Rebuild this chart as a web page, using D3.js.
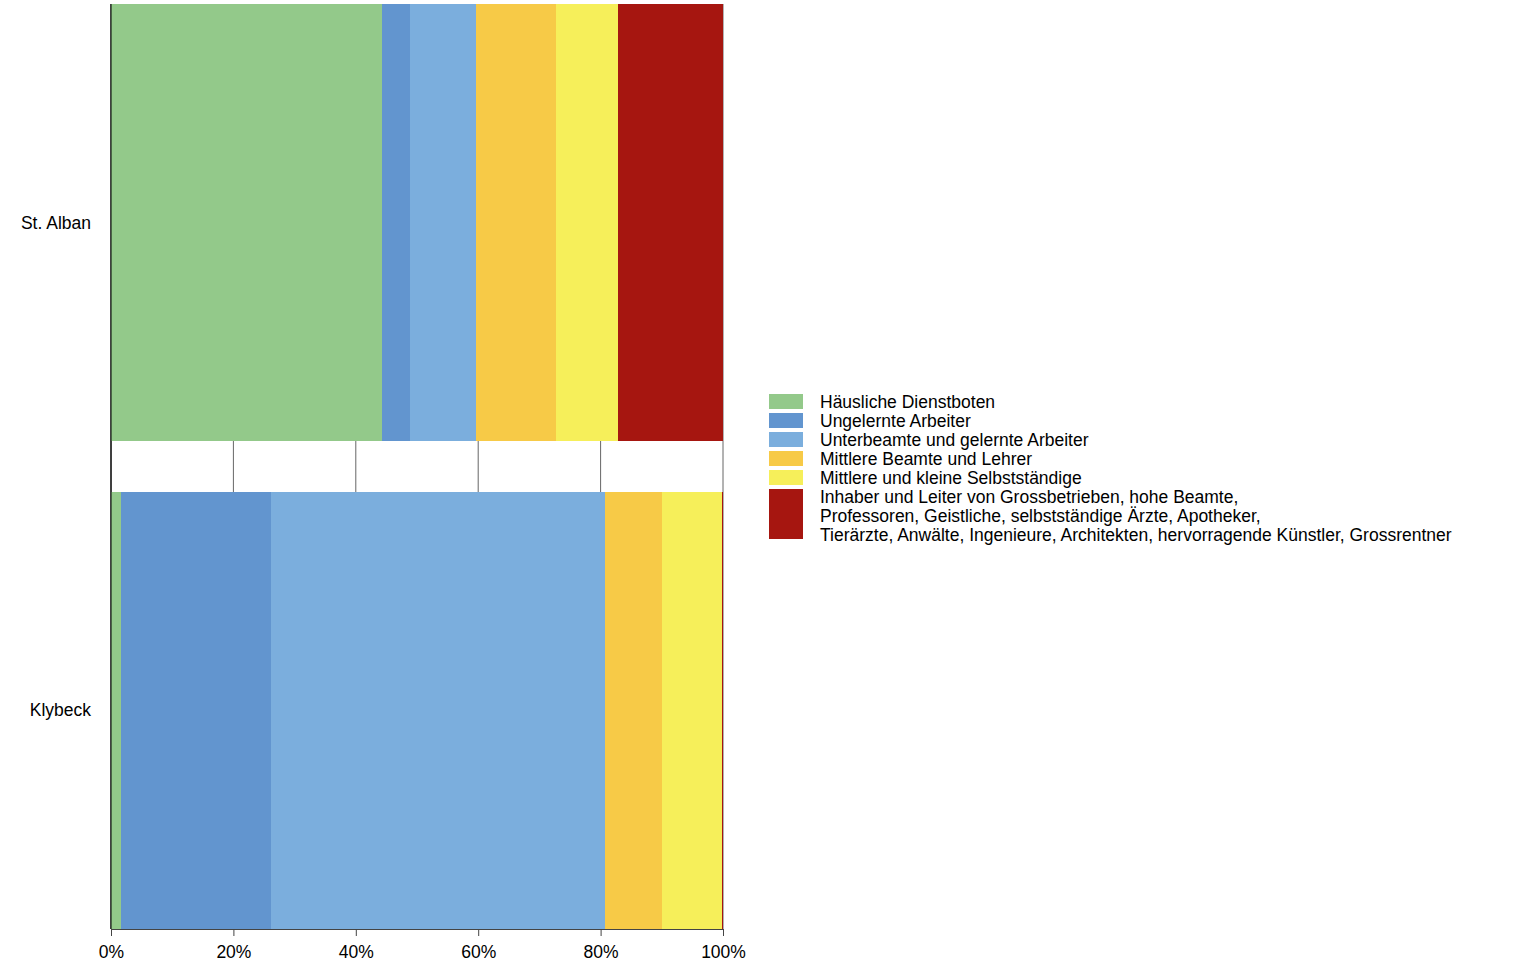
<!DOCTYPE html>
<html>
<head>
<meta charset="utf-8">
<script src="https://cdn.jsdelivr.net/npm/d3@7"></script>
<style>
  body { margin: 0; background: #fff; }
  text { font-family: "Liberation Sans", Arial, sans-serif; fill: #000; }
</style>
</head>
<body>
<script>
// Quartiere und Anteile je Sozialschicht (Prozent)
var quartiere = ['St. Alban', 'Klybeck'];
var schichten = [
  'Häusliche Dienstboten',
  'Ungelernte Arbeiter',
  'Unterbeamte und gelernte Arbeiter',
  'Mittlere Beamte und Lehrer',
  'Mittlere und kleine Selbstständige',
  'Inhaber und Leiter von Grossbetrieben, hohe Beamte,\nProfessoren, Geistliche, selbstständige Ärzte, Apotheker,\nTierärzte, Anwälte, Ingenieure, Architekten, hervorragende Künstler, Grossrentner'
];
var stAlban = [44.3, 4.5, 10.8, 13.1, 10.1, 17.2];
var klybeck = [1.6, 24.5, 54.6, 9.4, 9.7, 0.2];
var farben = ['#93c98a', '#6295cf', '#7baedd', '#f7ca47', '#f6ef5a', '#a61610'];
var xTicks = [0, 20, 40, 60, 80, 100];

var width = 1536;
var height = 960;
var rLeft = 111, rRight = 723, rTop = 4, rBottom = 929;
var schrift = '17.5px';

var werte = [stAlban, klybeck];

var x = d3.scaleLinear().domain([0, 100]).range([rLeft, rRight]);
var y = d3.scaleBand().domain(quartiere).range([rTop, rBottom]).paddingInner(0.1026);
var farbe = d3.scaleOrdinal().domain(schichten).range(farben);

var svg = d3.select('body')
  .append('svg')
  .attr('width', width)
  .attr('height', height);

// Gitterlinien hinter den Balken
svg.append('g')
  .selectAll('line')
  .data(xTicks)
  .enter()
  .append('line')
  .attr('x1', function(d){ return x(d); })
  .attr('x2', function(d){ return x(d); })
  .attr('y1', rTop)
  .attr('y2', rBottom)
  .attr('stroke', function(d){ return d === 0 ? '#000' : '#666'; })
  .attr('stroke-width', 1);

// gestapelte Balken
var stapel = quartiere.map(function(q, i){
  var summe = 0;
  return werte[i].map(function(v, j){
    var s = { quartier: q, schicht: schichten[j], x0: summe, x1: summe + v };
    summe += v;
    return s;
  });
});

svg.append('g')
  .selectAll('g')
  .data(stapel)
  .enter()
  .append('g')
  .selectAll('rect')
  .data(function(d){ return d; })
  .enter()
  .append('rect')
  .attr('x', function(d){ return x(d.x0); })
  .attr('width', function(d){ return x(d.x1) - x(d.x0); })
  .attr('y', function(d){ return y(d.quartier); })
  .attr('height', y.bandwidth())
  .attr('fill', function(d){ return farbe(d.schicht); })
  .attr('shape-rendering', 'crispEdges');

// linke Achsenlinie
svg.append('line')
  .attr('x1', rLeft).attr('x2', rLeft)
  .attr('y1', rTop).attr('y2', rBottom)
  .attr('stroke', '#000');

// x-Achse
var xAxis = d3.axisBottom(x)
  .tickValues(xTicks)
  .tickSize(7)
  .tickPadding(10)
  .tickFormat(function(d){ return d + '%'; });

var gx = svg.append('g')
  .attr('transform', 'translate(0,' + rBottom + ')')
  .call(xAxis);
gx.select('.domain').attr('stroke', '#444');
gx.selectAll('.tick line').attr('stroke', '#444');
gx.selectAll('.tick text')
  .style('font-family', '"Liberation Sans", Arial, sans-serif')
  .style('font-size', schrift)
  .attr('fill', '#000');

// Quartiernamen
svg.append('g')
  .selectAll('text')
  .data(quartiere)
  .enter()
  .append('text')
  .attr('x', 91)
  .attr('y', function(d){ return y(d) + y.bandwidth() / 2; })
  .attr('dy', '0.35em')
  .attr('text-anchor', 'end')
  .style('font-size', schrift)
  .text(function(d){ return d; });

// Legende
var zeile = 19;
var legende = svg.append('g');
var pos = 393;
schichten.forEach(function(s){
  var zeilen = s.split('\n');
  var h = zeilen.length * zeile;
  legende.append('rect')
    .attr('x', 769)
    .attr('y', pos + 1)
    .attr('width', 34)
    .attr('height', zeilen.length > 1 ? h - 7 : h - 4)
    .attr('fill', farbe(s));
  var t = legende.append('text')
    .style('font-size', schrift);
  zeilen.forEach(function(z, k){
    t.append('tspan')
      .attr('x', 820)
      .attr('y', pos + k * zeile + 9)
      .attr('dy', '0.35em')
      .text(z);
  });
  pos += h;
});
</script>
</body>
</html>
